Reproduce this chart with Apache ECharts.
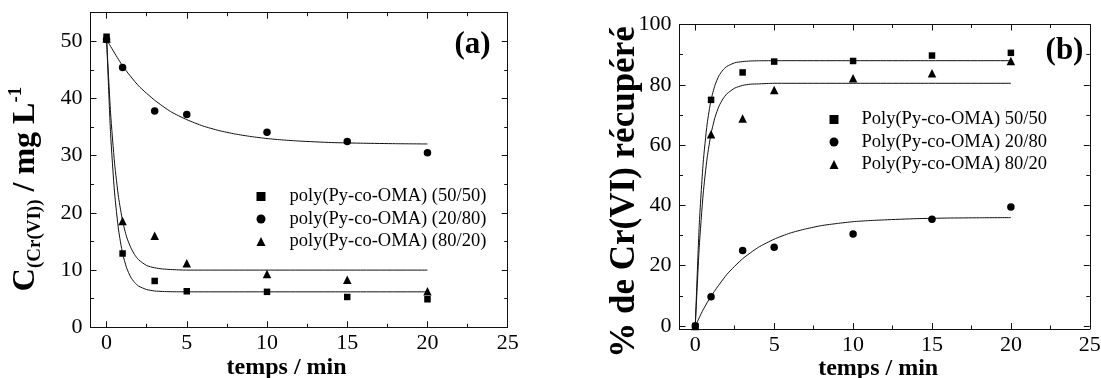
<!DOCTYPE html>
<html>
<head>
<meta charset="utf-8">
<script src="https://cdn.jsdelivr.net/npm/echarts@6/dist/echarts.min.js"></script>
<style>
  html, body { margin: 0; padding: 0; background: #fff; }
  #chart { width: 1101px; height: 378px; }
</style>
</head>
<body>
<div id="chart"></div>
<script>
// Sampling times (min)
const timeMin = [0, 1, 3, 5, 10, 15, 20];

// (a) Cr(VI) concentration left in solution, mg/L
const concA_5050 = [50.8, 12.9, 8.1, 6.3, 6.2, 5.3, 4.9];
const concA_2080 = [50.3, 45.4, 37.8, 37.2, 34.1, 32.5, 30.5];
const concA_8020 = [50.5, 18.6, 16.0, 11.2, 9.3, 8.3, 6.3];

// (a) fitted kinetic curves
const fitTimeA = [0, 0.25, 0.5, 0.75, 1, 1.25, 1.5, 1.75, 2, 2.5, 3, 3.5, 4, 5, 10, 15, 20];
const fitA_5050 = [50.7, 33.9, 23.5, 17.0, 12.9, 10.4, 8.8, 7.83, 7.2, 6.6, 6.35, 6.26, 6.22, 6.2, 6.2, 6.2, 6.2];
const fitA_8020 = [50.5, 37.5, 28.7, 22.7, 18.6, 15.8, 14.0, 12.7, 11.8, 10.8, 10.4, 10.2, 10.1, 10.0, 10.0, 10.0, 10.0];
const fitTimeA_2080 = [0, 1, 2, 3, 4, 5, 6, 7, 8, 9, 10, 11, 12, 14, 16, 18, 20];
const fitA_2080 = [50.3, 45.7, 42.2, 39.7, 37.7, 36.3, 35.2, 34.4, 33.8, 33.35, 33.0, 32.75, 32.56, 32.3, 32.18, 32.1, 32.05];

// (b) recovered Cr(VI), %
const recB_5050 = [0, 75.0, 84.1, 87.7, 87.9, 89.7, 90.6];
const recB_2080 = [0, 9.7, 25.0, 26.1, 30.5, 35.4, 39.5];
const recB_8020 = [0, 63.6, 68.8, 78.3, 82.2, 83.8, 87.9];

// (b) fitted kinetic curves
const fitTimeB = [0, 0.25, 0.5, 0.75, 1, 1.25, 1.5, 1.75, 2, 2.5, 3, 3.5, 4, 5, 10, 15, 20];
const fitB_5050 = [0, 33.4, 54.1, 67.0, 75.0, 79.9, 83.0, 84.9, 86.1, 87.3, 87.7, 87.9, 87.96, 88.0, 88.0, 88.0, 88.0];
const fitB_8020 = [0, 26.1, 43.8, 55.7, 63.8, 69.2, 72.9, 75.3, 77.0, 78.9, 79.8, 80.2, 80.3, 80.5, 80.5, 80.5, 80.5];
const fitTimeB_2080 = [0, 0.5, 1, 2, 3, 4, 5, 6, 7, 8, 9, 10, 11, 12, 14, 16, 18, 20];
const fitB_2080 = [0, 5.4, 9.9, 17.1, 22.3, 26.1, 28.8, 30.8, 32.2, 33.3, 34.0, 34.6, 34.95, 35.2, 35.6, 35.8, 35.89, 35.95];

// Legend labels
const namesA = ['poly(Py-co-OMA) (50/50)', 'poly(Py-co-OMA) (20/80)', 'poly(Py-co-OMA) (80/20)'];
const namesB = ['Poly(Py-co-OMA) 50/50', 'Poly(Py-co-OMA) 20/80', 'Poly(Py-co-OMA) 80/20'];

// Tick positions
const xMajorTicks = [0, 5, 10, 15, 20, 25];
const xMinorTicks = [2.5, 7.5, 12.5, 17.5, 22.5];
const yMajorTicksA = [0, 10, 20, 30, 40, 50];
const yMinorTicksA = [5, 15, 25, 35, 45];
const yMajorTicksB = [0, 20, 40, 60, 80, 100];
const yMinorTicksB = [10, 30, 50, 70, 90];

const FONT = 'Liberation Serif';
const INK = '#111';

function pairs(xs, ys) { return xs.map((x, i) => [x, ys[i]]); }

// Main + minor tick axes on both sides of a grid, giving a closed frame
function frameAxes(dim, gridIndex, min, max, major, minor, nameOpt) {
  const sides = dim === 'x' ? ['bottom', 'top'] : ['left', 'right'];
  const out = [];
  sides.forEach((pos, si) => {
    [major, minor].forEach((vals, ti) => {
      const primary = si === 0 && ti === 0;
      const ax = {
        type: 'value', gridIndex, position: pos, min, max,
        axisLine: { show: ti === 0, onZero: false, lineStyle: { color: INK, width: 1 } },
        axisTick: { show: true, inside: true, length: ti === 0 ? 6 : 3.5, customValues: vals,
                    lineStyle: { color: INK, width: 1 } },
        axisLabel: primary ? {
          show: true, customValues: major, color: '#000', fontFamily: FONT, fontSize: 22,
          margin: dim === 'x' ? 5 : 8
        } : { show: false },
        splitLine: { show: false },
        minorTick: { show: false },
        silent: true
      };
      if (primary && nameOpt) Object.assign(ax, nameOpt);
      out.push(ax);
    });
  });
  return out;
}

const xNameStyle = (padRight) => ({
  nameLocation: 'middle', nameGap: 28, nameMoveOverlap: false,
  nameTextStyle: { fontFamily: FONT, fontWeight: 'bold', fontSize: 24, color: '#000',
                   padding: [0, padRight, 0, 0] }
});

const xAxes = [
  ...frameAxes('x', 0, -1, 25, xMajorTicks, xMinorTicks, Object.assign({ name: 'temps / min' }, xNameStyle(25))),
  ...frameAxes('x', 1, -1, 25, xMajorTicks, xMinorTicks, Object.assign({ name: 'temps / min' }, xNameStyle(13)))
];
const yAxes = [
  ...frameAxes('y', 0, 0, 55, yMajorTicksA, yMinorTicksA, null),
  ...frameAxes('y', 1, -1, 100, yMajorTicksB, yMinorTicksB, null)
];

const symbols = ['rect', 'circle', 'triangle'];
const symbolSizes = [6.5, 7.5, 8.5];

function scatter(name, xs, ys, k, axisIdx) {
  return {
    type: 'scatter', name, data: pairs(xs, ys), xAxisIndex: axisIdx, yAxisIndex: axisIdx,
    symbol: symbols[k], symbolSize: symbolSizes[k], itemStyle: { color: '#000', opacity: 1 },
    z: 3, silent: true
  };
}
function fit(name, xs, ys, axisIdx) {
  return {
    type: 'line', name, data: pairs(xs, ys), xAxisIndex: axisIdx, yAxisIndex: axisIdx,
    smooth: 0.2, showSymbol: false, symbol: 'none',
    lineStyle: { color: '#111', width: 1 }, z: 2, silent: true
  };
}

const series = [
  fit('fit a 50/50', fitTimeA, fitA_5050, 0),
  fit('fit a 80/20', fitTimeA, fitA_8020, 0),
  fit('fit a 20/80', fitTimeA_2080, fitA_2080, 0),
  scatter(namesA[0], timeMin, concA_5050, 0, 0),
  scatter(namesA[1], timeMin, concA_2080, 1, 0),
  scatter(namesA[2], timeMin, concA_8020, 2, 0),
  fit('fit b 50/50', fitTimeB, fitB_5050, 4),
  fit('fit b 80/20', fitTimeB, fitB_8020, 4),
  fit('fit b 20/80', fitTimeB_2080, fitB_2080, 4),
  scatter(namesB[0], timeMin, recB_5050, 0, 4),
  scatter(namesB[1], timeMin, recB_2080, 1, 4),
  scatter(namesB[2], timeMin, recB_8020, 2, 4)
];

const legendText = { fontFamily: FONT, fontSize: 18.5, color: '#000', lineHeight: 19 };

const option = {
  backgroundColor: '#fff',
  animation: false,
  grid: [
    { left: 90.5, top: 12.7, width: 417.2, height: 314.6, outerBoundsMode: 'none', containLabel: false },
    { left: 679.5, top: 24.5, width: 410.3, height: 304.5, outerBoundsMode: 'none', containLabel: false }
  ],
  xAxis: xAxes,
  yAxis: yAxes,
  legend: [
    {
      data: namesA.map((n, i) => ({ name: n, icon: symbols[i] })),
      orient: 'vertical', left: 251.5, top: 182, itemWidth: 9, itemHeight: 9, itemGap: 3.5,
      symbolKeepAspect: true,
      textStyle: Object.assign({ padding: [0, 0, 0, 19] }, legendText), selectedMode: false
    },
    {
      data: namesB.map((n, i) => ({ name: n, icon: symbols[i] })),
      orient: 'vertical', left: 824.5, top: 105, itemWidth: 9, itemHeight: 9, itemGap: 3.5,
      symbolKeepAspect: true,
      textStyle: Object.assign({ padding: [0, 0, 0, 18] }, legendText), selectedMode: false
    }
  ],
  graphic: [
    {
      type: 'text', x: 26, y: 189, rotation: Math.PI / 2,
      style: {
        text: '{m|C}{s|(Cr(VI))}{m| / mg L}{p|-1}',
        align: 'center', verticalAlign: 'middle',
        rich: {
          m: { fontFamily: FONT, fontWeight: 'bold', fontSize: 32, lineHeight: 38, fill: '#000' },
          s: { fontFamily: FONT, fontWeight: 'bold', fontSize: 19, lineHeight: 15, verticalAlign: 'bottom', fill: '#000' },
          p: { fontFamily: FONT, fontWeight: 'bold', fontSize: 19, lineHeight: 15, verticalAlign: 'top', fill: '#000' }
        }
      }
    },
    {
      type: 'text', x: 625, y: 192, rotation: Math.PI / 2,
      style: {
        text: '% de Cr(VI) récupéré', align: 'center', verticalAlign: 'middle',
        fontFamily: FONT, fontWeight: 'bold', fontSize: 35, fill: '#000'
      }
    },
    {
      type: 'text', x: 472.5, y: 45,
      style: { text: '(a)', align: 'center', verticalAlign: 'middle',
               fontFamily: FONT, fontWeight: 'bold', fontSize: 31, fill: '#000' }
    },
    {
      type: 'text', x: 1064.5, y: 51,
      style: { text: '(b)', align: 'center', verticalAlign: 'middle',
               fontFamily: FONT, fontWeight: 'bold', fontSize: 31, fill: '#000' }
    }
  ],
  series
};

const chart = echarts.init(document.getElementById('chart'), null, { renderer: 'canvas' });
chart.setOption(option);
</script>
</body>
</html>
